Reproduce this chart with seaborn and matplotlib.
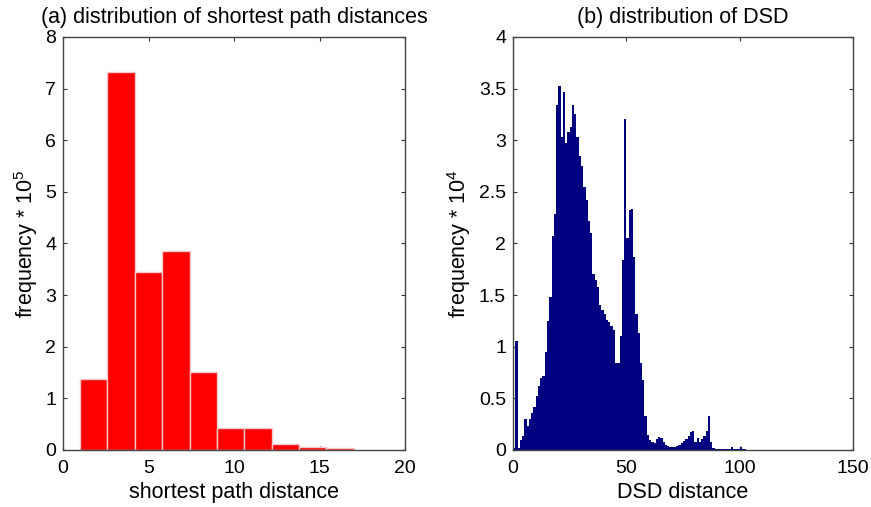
import numpy as np
import pandas as pd
import matplotlib
matplotlib.use("Agg")
import matplotlib.pyplot as plt
import seaborn as sns

# ---- data (a): shortest path distances, frequency * 1e5 ----
sp_edges = [1.0, 2.6, 4.2, 5.8, 7.4, 9.0, 10.6, 12.2, 13.8, 15.4, 17.0]
sp_freq = [1.38, 7.33, 3.44, 3.86, 1.51, 0.43, 0.43, 0.12, 0.065, 0.03]

# ---- data (b): DSD distances, frequency * 1e4, unit-width bins starting at 0 ----
dsd_freq = [
    0.02, 1.06, 0.02, 0.10, 0.14, 0.30, 0.23, 0.30, 0.36, 0.42,
    0.52, 0.62, 0.70, 0.72, 0.95, 1.25, 1.48, 2.07, 2.29, 3.34,
    3.53, 3.03, 3.47, 2.97, 3.08, 3.13, 3.34, 3.25, 3.03, 2.85,
    2.75, 2.55, 2.42, 2.22, 2.10, 1.70, 1.65, 1.58, 1.40, 1.36,
    1.32, 1.26, 1.24, 1.20, 1.16, 0.84, 0.84, 1.10, 1.84, 3.21,
    2.05, 2.32, 2.33, 1.87, 1.32, 1.13, 0.84, 0.68, 0.33, 0.15,
    0.10, 0.08, 0.07, 0.11, 0.13, 0.12, 0.08, 0.05, 0.04, 0.03,
    0.03, 0.03, 0.04, 0.05, 0.07, 0.09, 0.11, 0.14, 0.17, 0.18,
    0.08, 0.12, 0.08, 0.11, 0.14, 0.18, 0.33, 0.08, 0.02, 0.01,
    0.01, 0.01, 0.01, 0.01, 0.01, 0.01, 0.03, 0.01, 0.01, 0.01,
    0.03, 0.01, 0.01,
]

sp_centers = [(a + b) / 2 for a, b in zip(sp_edges[:-1], sp_edges[1:])]
dsd_edges = list(range(len(dsd_freq) + 1))
dsd_centers = [e + 0.5 for e in dsd_edges[:-1]]

df_sp = pd.DataFrame({"dist": sp_centers, "freq": sp_freq})
df_dsd = pd.DataFrame({"dist": dsd_centers, "freq": dsd_freq})

sns.set_theme(style="white")
plt.rcParams["font.family"] = ["Liberation Sans", "DejaVu Sans"]
plt.rcParams["mathtext.fontset"] = "custom"
plt.rcParams["mathtext.rm"] = "Liberation Sans"
plt.rcParams["mathtext.it"] = "Liberation Sans"
plt.rcParams["text.color"] = "black"
plt.rcParams["axes.labelcolor"] = "black"
plt.rcParams["xtick.color"] = "black"
plt.rcParams["ytick.color"] = "black"

fig = plt.figure(figsize=(8.71, 5.07), dpi=100)
W, H = 871, 507
ax1 = fig.add_axes([63 / W, (H - 450) / H, 342 / W, 413 / H])
ax2 = fig.add_axes([513 / W, (H - 450) / H, 340 / W, 413 / H])

sns.histplot(data=df_sp, x="dist", weights="freq", bins=sp_edges, ax=ax1,
             color="#ff0000", alpha=1, edgecolor="#f4c8c8", linewidth=1.0)
sns.histplot(data=df_dsd, x="dist", weights="freq", bins=dsd_edges, ax=ax2,
             color="#000080", alpha=1, edgecolor="none", linewidth=0)

fs = 14
lfs = 15.5
ax1.set_xlim(0, 20)
ax1.set_ylim(0, 8)
ax1.set_xticks([0, 5, 10, 15, 20])
ax1.set_yticks(range(0, 9))
ax1.set_title("(a) distribution of shortest path distances", fontsize=lfs, pad=10, color="black")
ax1.set_xlabel("shortest path distance", fontsize=lfs, labelpad=4)
ax1.set_ylabel("frequency * 10$^5$", fontsize=lfs, labelpad=4)

ax2.set_xlim(0, 150)
ax2.set_ylim(0, 4)
ax2.set_xticks([0, 50, 100, 150])
ax2.set_yticks([0, 0.5, 1, 1.5, 2, 2.5, 3, 3.5, 4])
ax2.set_yticklabels(["0", "0.5", "1", "1.5", "2", "2.5", "3", "3.5", "4"])
ax2.set_title("(b) distribution of DSD", fontsize=lfs, pad=10, color="black")
ax2.set_xlabel("DSD distance", fontsize=lfs, labelpad=4)
ax2.set_ylabel("frequency * 10$^4$", fontsize=lfs, labelpad=4)

for ax in (ax1, ax2):
    for s in ax.spines.values():
        s.set_visible(True)
        s.set_color("#444444")
        s.set_linewidth(1.0)
    ax.tick_params(direction="in", length=3, width=0.8, color="#333333",
                   labelcolor="black", labelsize=fs,
                   top=True, right=True, bottom=True, left=True)
    ax.tick_params(axis="x", pad=7)
    ax.tick_params(axis="y", pad=5)
    ax.grid(False)

fig.savefig("out.png", dpi=100)
